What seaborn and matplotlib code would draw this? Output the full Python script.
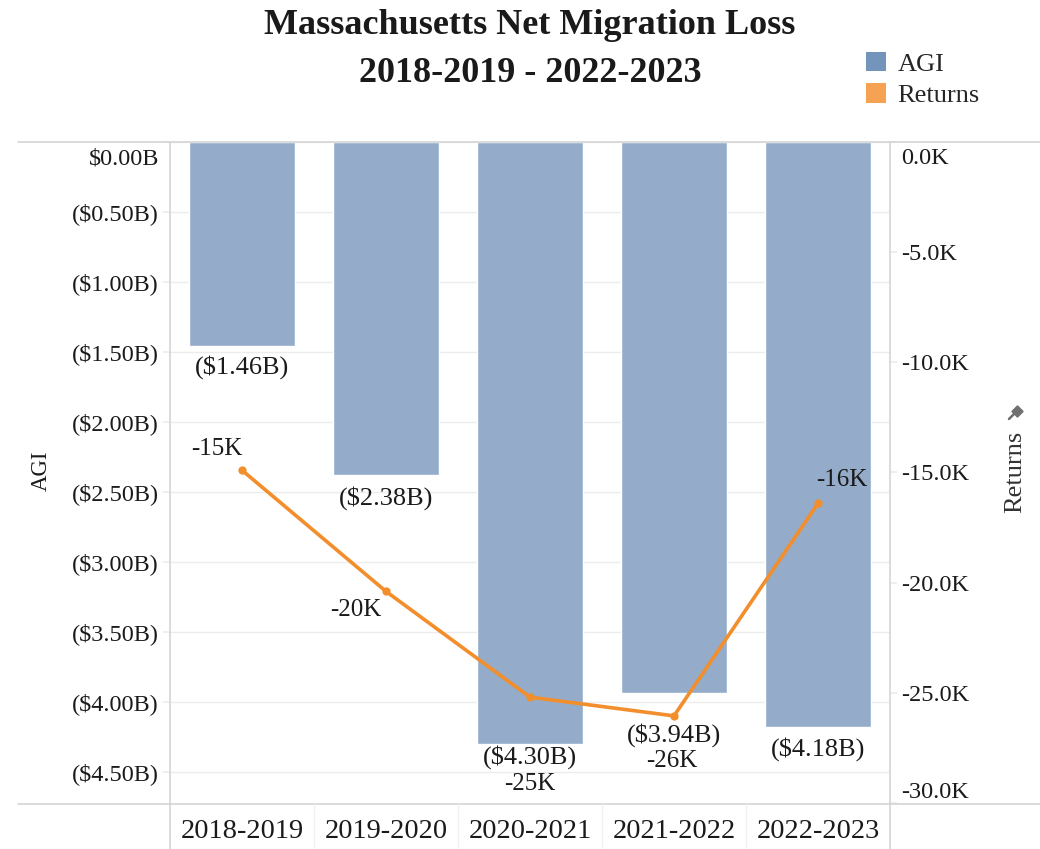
import matplotlib
matplotlib.use("Agg")
import matplotlib.pyplot as plt
import matplotlib.transforms as mtransforms
import seaborn as sns
import pandas as pd
from matplotlib.patches import Patch
from matplotlib.lines import Line2D

# ---- data ----
years = ["2018-2019", "2019-2020", "2020-2021", "2021-2022", "2022-2023"]
agi_billions = [-1.46, -2.38, -4.30, -3.94, -4.18]
returns_k = [-14.9, -20.4, -25.2, -26.05, -16.4]
agi_ticks = [0, -0.5, -1.0, -1.5, -2.0, -2.5, -3.0, -3.5, -4.0, -4.5]
ret_ticks = [0, -5, -10, -15, -20, -25, -30]

df = pd.DataFrame({"Year": years, "AGI": agi_billions, "Returns": returns_k})

sns.set_theme(style="white")
plt.rcParams["font.family"] = ["Liberation Serif", "DejaVu Serif"]

BAR = "#94acc9"
BAR_LEG = "#7394bb"
LINE = "#f28e2b"
LINE_LEG = "#f5a252"
GRID = "#ececec"
AX = "#d4d4d4"
TXT = "#1a1a1a"

W, H = 1040, 849
fig = plt.figure(figsize=(W / 100, H / 100), dpi=100)
L, R, T, B = 170, 890, 142, 804
ax = fig.add_axes([L / W, 1 - B / H, (R - L) / W, (B - T) / H])

sns.barplot(data=df, x="Year", y="AGI", order=years, color=BAR, width=0.74,
            saturation=1, ax=ax, zorder=2)
ax.set_ylim(-4.73, 0)
ax.set_xlim(-0.5, 4.5)
ax.set_yticks(agi_ticks)
ax.set_yticklabels(["$0.00B" if v == 0 else f"(${abs(v):.2f}B)" for v in agi_ticks])
ax.yaxis.grid(True, color=GRID, lw=1, zorder=0)
ax.set_axisbelow(True)
ax.tick_params(axis="y", length=5, color=GRID, pad=3, labelsize=17.5, labelcolor=TXT, left=True)
ax.tick_params(axis="x", length=0, pad=11, labelsize=20.5, labelcolor=TXT)
ax.set_xlabel("")
ax.set_ylabel("")
for s in ["top", "bottom", "right"]:
    ax.spines[s].set_visible(False)
ax.spines["left"].set_color(AX)
ax.spines["left"].set_linewidth(1.2)
lbls = ax.get_yticklabels()
lbls[0].set_va("top")
lbls[0].set_transform(lbls[0].get_transform() +
                      mtransforms.ScaledTranslation(0, -6 / 100, fig.dpi_scale_trans))

# bar labels
bar_dy = [21, 23, 13, 42, 22]
for i, v in enumerate(agi_billions):
    ax.annotate(f"(${abs(v):.2f}B)", (i, v), xytext=(0, -bar_dy[i]),
                textcoords="offset pixels", ha="center", va="center",
                fontsize=19, color=TXT, zorder=5)

# returns line on second axis
ax2 = ax.twinx()
sns.pointplot(data=df, x="Year", y="Returns", order=years, color=LINE,
              markers="o", markersize=4, linewidth=2.6, ax=ax2)
ax2.set_ylim(-30.05, 0)
ax2.set_xlim(-0.5, 4.5)
ax2.set_yticks(ret_ticks)
ax2.set_yticklabels([f"{v:.1f}K" if v == 0 else f"-{abs(v):.1f}K" for v in ret_ticks])
ax2.tick_params(axis="y", length=5, color=GRID, pad=3, labelsize=17.5, labelcolor=TXT, right=True)
ax2.set_ylabel("")
ax2.set_xlabel("")
for s in ["top", "bottom", "left"]:
    ax2.spines[s].set_visible(False)
ax2.spines["right"].set_color(AX)
ax2.spines["right"].set_linewidth(1.2)
r_lbls = ax2.get_yticklabels()
r_lbls[0].set_va("top")
r_lbls[0].set_transform(r_lbls[0].get_transform() +
                        mtransforms.ScaledTranslation(0, -6 / 100, fig.dpi_scale_trans))
r_lbls[-1].set_va("bottom")

line_off = [(-25, 21), (-30, -19), (0, -87), (-2, -45), (24, 23)]
for i, v in enumerate(returns_k):
    dx, dy = line_off[i]
    ax2.annotate(f"{round(v):.0f}K", (i, v), xytext=(dx, dy),
                 textcoords="offset pixels", ha="center", va="center",
                 fontsize=18, color=TXT, zorder=6)

# frame lines in figure coords
def fx(px):
    return px / W

def fy(py):
    return 1 - py / H

for yy in (T, B):
    fig.add_artist(Line2D([fx(18), fx(1040)], [fy(yy), fy(yy)], color=AX, lw=1.2))
for xx in (L, R):
    fig.add_artist(Line2D([fx(xx), fx(xx)], [fy(B), fy(H)], color=AX, lw=1.2))
step = (R - L) / 5
for k in range(1, 5):
    xx = L + step * k
    fig.add_artist(Line2D([fx(xx), fx(xx)], [fy(B), fy(H)], color="#f0f0f0", lw=1))

# titles
fig.text(fx(530), fy(26), "Massachusetts Net Migration Loss", ha="center", va="center",
         fontsize=26, fontweight="bold", color=TXT)
fig.text(fx(530), fy(73), "2018-2019 - 2022-2023", ha="center", va="center",
         fontsize=26, fontweight="bold", color=TXT)

# axis titles
fig.text(fx(41), fy(471), "AGI", rotation=90, ha="center", va="center", fontsize=16.5, color=TXT)
fig.text(fx(1015), fy(472), "Returns", rotation=90, ha="center", va="center", fontsize=19, color="#333333")
# little pin glyph next to Returns
fig.add_artist(Line2D([fx(1009), fx(1014)], [fy(419), fy(414)], color="#707070", lw=1.8))
fig.add_artist(Line2D([fx(1017)], [fy(411)], marker=(4, 0, 0), markersize=8,
                      color="#707070", lw=0))

# legend
handles = [Patch(facecolor=BAR_LEG, edgecolor="none", label="AGI"),
           Patch(facecolor=LINE_LEG, edgecolor="none", label="Returns")]
fig.legend(handles=handles, loc="upper left", bbox_to_anchor=(fx(866), fy(52)),
           frameon=False, fontsize=19, handlelength=0.75, handleheight=0.75,
           handletextpad=0.45, labelspacing=0.28, borderaxespad=0, borderpad=0)

fig.savefig("out.png", dpi=100)
